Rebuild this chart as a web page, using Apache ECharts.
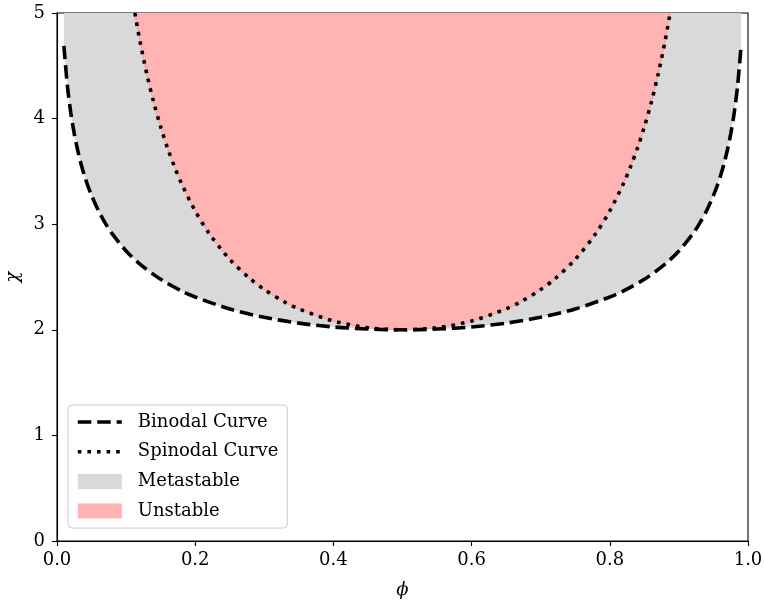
<!DOCTYPE html>
<html><head><meta charset="utf-8">
<script src="https://cdn.jsdelivr.net/npm/echarts@6/dist/echarts.min.js"></script>
<style>html,body{margin:0;padding:0;background:#fff}#c{width:764px;height:601px}</style>
</head><body><div id="c"></div>
<script>
var phiBinodal = [0.01,0.015,0.02,0.025,0.03,0.035,0.04,0.045,0.05,0.06,0.07,0.08,0.10,0.12,0.15,0.18,0.20,0.25,0.30,0.35,0.40,0.45,0.50,0.55,0.60,0.65,0.70,0.75,0.80,0.82,0.85,0.88,0.90,0.92,0.93,0.94,0.95,0.955,0.96,0.965,0.97,0.975,0.98,0.985,0.99];
var chiBinodal = [4.689,4.314,4.054,3.856,3.698,3.566,3.454,3.357,3.272,3.127,3.008,2.908,2.747,2.622,2.478,2.369,2.311,2.197,2.118,2.063,2.027,2.007,2.000,2.007,2.027,2.063,2.118,2.197,2.311,2.369,2.478,2.622,2.747,2.908,3.008,3.127,3.272,3.357,3.454,3.566,3.698,3.856,4.054,4.314,4.689];
var phiSpinodal = [0.1127,0.12,0.13,0.14,0.15,0.16,0.17,0.18,0.20,0.22,0.25,0.28,0.30,0.33,0.35,0.40,0.45,0.50,0.55,0.60,0.65,0.67,0.70,0.72,0.75,0.78,0.80,0.82,0.83,0.84,0.85,0.86,0.87,0.88,0.8873];
var chiSpinodal = [5.000,4.735,4.421,4.153,3.922,3.720,3.544,3.388,3.125,2.914,2.667,2.480,2.381,2.261,2.198,2.083,2.020,2.000,2.020,2.083,2.198,2.261,2.381,2.480,2.667,2.914,3.125,3.388,3.544,3.720,3.922,4.153,4.421,4.735,5.000];
var xTicks = [0, 0.2, 0.4, 0.6, 0.8, 1.0];
var yTicks = [0, 1, 2, 3, 4, 5];
var seriesNames = ['Binodal Curve', 'Spinodal Curve', 'Metastable', 'Unstable'];

var FONT = 'DejaVu Serif';
var FS = 18;
var GRAY = '#d9d9d9', RED = '#ffb3b3';
var DASH = [13.5, 5.9], DOT = [3.6, 6.0];
function pairs(xs, ys){ return xs.map(function(x,i){ return [x, ys[i]]; }); }

var chart = echarts.init(document.getElementById('c'), null, {renderer:'canvas'});
chart.setOption({
  animation: false,
  grid: {left: 57, right: 16, top: 13, bottom: 60, containLabel: false, outerBoundsMode: 'none',
         show: true, borderColor: '#000', borderWidth: 1.1, backgroundColor: 'transparent'},
  xAxis: {
    type: 'value', min: xTicks[0], max: xTicks[xTicks.length-1], interval: 0.2,
    name: 'ϕ', nameLocation: 'middle', nameGap: 40,
    nameTextStyle: {fontFamily: FONT, fontSize: FS, fontStyle: 'italic', color: '#000'},
    axisLine: {show: true, lineStyle: {color: '#000', width: 1.1}},
    axisTick: {show: true, length: 5, lineStyle: {color: '#000', width: 1.1}},
    axisLabel: {margin: 10, fontFamily: FONT, fontSize: FS, color: '#000', formatter: function(v){ return v.toFixed(1); }},
    splitLine: {show: false}
  },
  yAxis: {
    type: 'value', min: yTicks[0], max: yTicks[yTicks.length-1], interval: 1,
    name: 'χ', nameLocation: 'middle', nameGap: 34,
    nameTextStyle: {fontFamily: FONT, fontSize: FS, fontStyle: 'italic', color: '#000'},
    axisLine: {show: true, lineStyle: {color: '#000', width: 1.1}},
    axisTick: {show: true, length: 5, lineStyle: {color: '#000', width: 1.1}},
    axisLabel: {margin: 12, fontFamily: FONT, fontSize: FS, color: '#000'},
    splitLine: {show: false}
  },
  legend: {
    orient: 'vertical', left: 68, top: 405,
    padding: [7, 9, 7, 8],
    backgroundColor: 'rgba(255,255,255,0.8)', borderColor: '#cccccc', borderWidth: 1, borderRadius: 4,
    itemWidth: 44, itemHeight: 15, itemGap: 9.7,
    textStyle: {fontFamily: FONT, fontSize: FS, color: '#000', lineHeight: 20, padding: [0,0,0,11]},
    data: [
      {name: seriesNames[0], itemStyle: {opacity: 0}, lineStyle: {width: 3.6, color: '#000', type: DASH, cap: 'butt'}},
      {name: seriesNames[1], itemStyle: {opacity: 0}, lineStyle: {width: 3.6, color: '#000', type: DOT, cap: 'butt'}},
      {name: seriesNames[2], icon: 'rect', itemStyle: {color: GRAY}},
      {name: seriesNames[3], icon: 'rect', itemStyle: {color: RED}}
    ]
  },
  series: [
    {name: seriesNames[2], type: 'line', data: pairs(phiBinodal, chiBinodal), smooth: 0.3, symbol: 'none', z: 1,
     color: GRAY, lineStyle: {width: 0, color: GRAY}, areaStyle: {color: GRAY, opacity: 1, origin: 'end'}},
    {name: seriesNames[3], type: 'line', data: pairs(phiSpinodal, chiSpinodal), smooth: 0.3, symbol: 'none', z: 2,
     color: RED, lineStyle: {width: 1, color: '#ff9a9a'}, areaStyle: {color: RED, opacity: 1, origin: 'end'}},
    {name: seriesNames[0], type: 'line', data: pairs(phiBinodal, chiBinodal), smooth: 0.3, symbol: 'none', z: 3,
     color: '#000', lineStyle: {width: 3.6, color: '#000', type: DASH, cap: 'butt'}},
    {name: seriesNames[1], type: 'line', data: pairs(phiSpinodal, chiSpinodal), smooth: 0.3, symbol: 'none', z: 4,
     color: '#000', lineStyle: {width: 3.6, color: '#000', type: DOT, cap: 'butt'}}
  ]
});
</script></body></html>
